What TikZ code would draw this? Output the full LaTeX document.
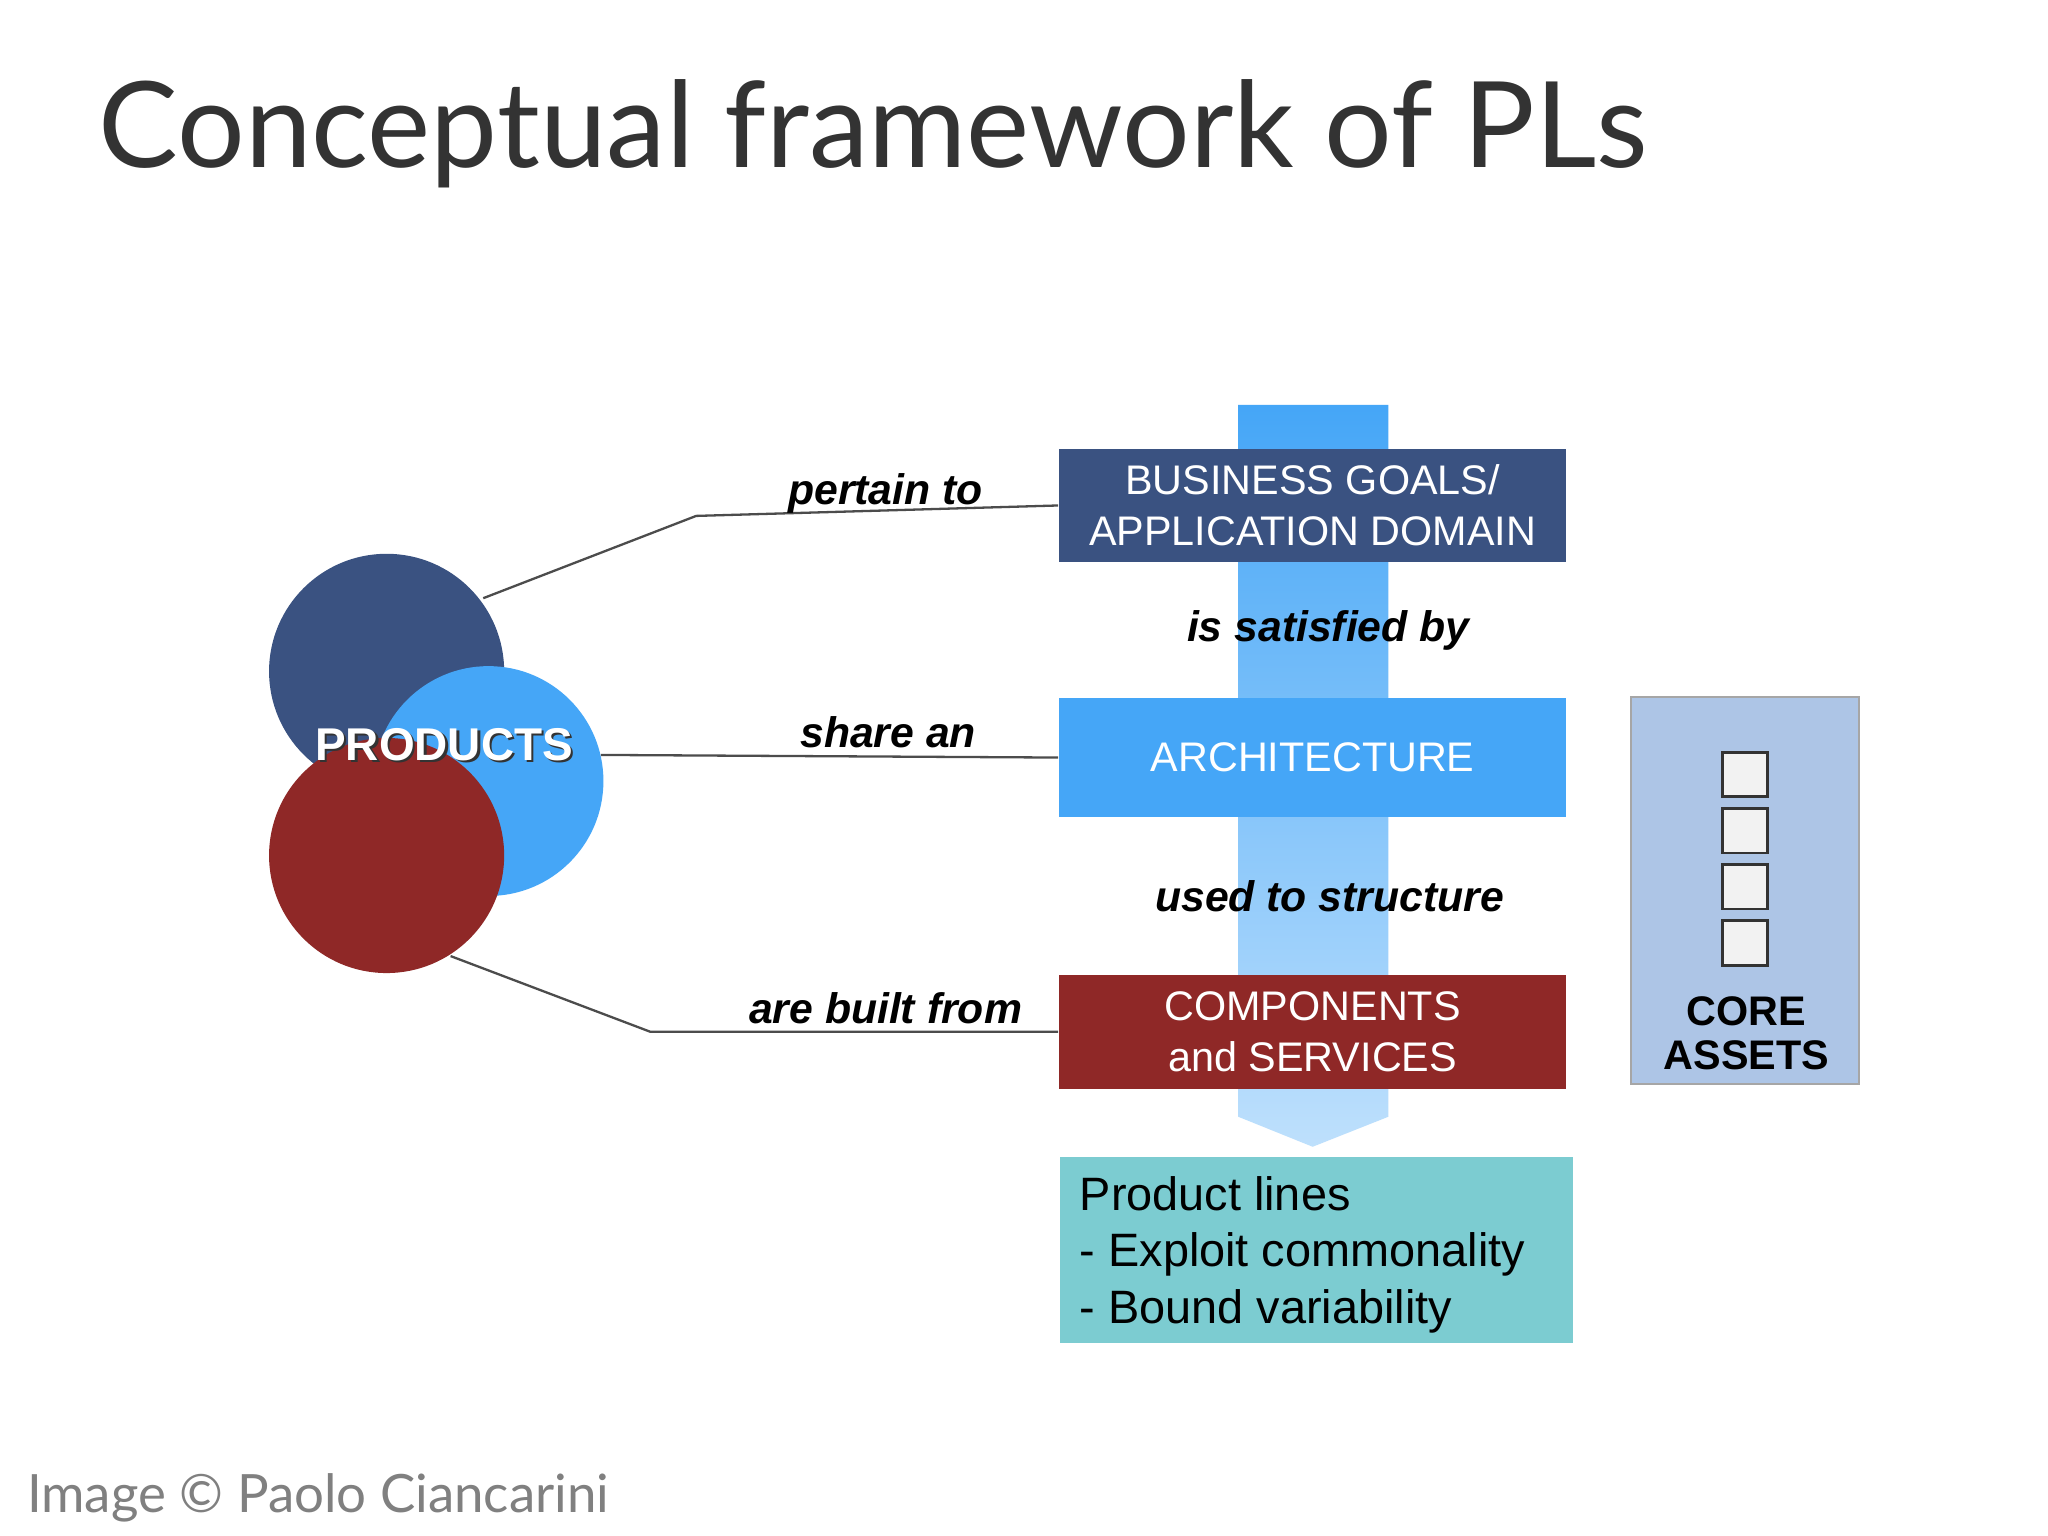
\documentclass[tikz,border=0pt]{standalone}
\usepackage{fontspec}
\setmainfont{Liberation Sans}
\newfontfamily\titlefont{Lato}
\begin{document}
\begin{tikzpicture}[x=0.01cm,y=-0.01cm,
  box/.style={minimum width=388\pgflinewidth,inner sep=0pt,text=white,align=center,font=\fontsize{9}{11}\selectfont},
  lbl/.style={font=\fontsize{9.3}{11}\selectfont\bfseries\itshape,text=black},
  conn/.style={draw=black!70,line width=0.5pt},
  sq/.style={draw=black!80,fill=black!5,line width=0.6pt,minimum size=0.34cm,inner sep=0pt}]
\definecolor{dblue}{HTML}{3A5281}
\definecolor{lblue}{HTML}{45A6F7}
\definecolor{dred}{HTML}{8F2827}
\definecolor{teal}{HTML}{7CCCD1}
\definecolor{core}{HTML}{ADC5E6}
\useasboundingbox (0,0) rectangle (1568,1176);
\fill[white] (0,0) rectangle (1568,1176);
\node[anchor=base west,inner sep=0pt,text=black!80,font=\titlefont\fontsize{26}{30}\selectfont] (title) at (75,128) {Conceptual framework of PLs};
% band
\shade[top color=lblue,bottom color=lblue!35] (948,310) -- (1063,310) -- (1063,855) -- (1005,878) -- (948,855) -- cycle;
% boxes
\node[box,fill=dblue,minimum width=3.88cm,minimum height=0.87cm] (bg) at (1005,387) {BUSINESS GOALS/\\APPLICATION DOMAIN};
\node[box,fill=lblue,minimum width=3.88cm,minimum height=0.91cm] (arch) at (1005,580) {ARCHITECTURE};
\node[box,fill=dred,minimum width=3.88cm,minimum height=0.87cm] (comp) at (1005,790) {COMPONENTS\\and SERVICES};
\node[fill=teal,minimum width=3.92cm,minimum height=1.42cm,inner sep=0pt] (pl) at (1008,957) {};
\node[anchor=north west,align=left,inner sep=0pt,font=\fontsize{10.2}{12.3}\selectfont] (pltext) at (826,900) {Product lines\\- Exploit commonality\\- Bound variability};
\node[lbl] (sat) at (1017,483) {is satisfied by};
\node[lbl] (use) at (1018,686) {used to structure};
% core assets
\node[fill=core,draw=black!35,minimum width=1.74cm,minimum height=2.96cm,inner sep=0pt] (ca) at (1336,682) {};
\foreach \y/\n in {593/a,636/b,679/c,722/d} \node[sq] (s\n) at (1336,\y) {};
\node[align=center,font=\fontsize{9}{9.5}\selectfont\bfseries] (catext) at (1337,791) {CORE\\ASSETS};
% circles
\fill[dblue] (296,514) circle (90);
\fill[lblue] (374,598) circle (88);
\fill[dred] (296,655) circle (90);
\node[text=black!80,font=\fontsize{10}{12}\selectfont\bfseries] at (342,572) {PRODUCTS};
\node[text=white,font=\fontsize{10}{12}\selectfont\bfseries] (prod) at (340,570) {PRODUCTS};
\coordinate (p1) at (370,458);
\coordinate (p2) at (460,578);
\coordinate (p3) at (345,732);
% connectors
\draw[conn] (p1) -- (533,395) -- (bg.west);
\draw[conn] (p2) -- (arch.west);
\draw[conn] (p3) -- (498,790) -- (comp.west);
\node[lbl] (l1) at (678,378) {pertain to};
\node[lbl] (l2) at (680,561) {share an};
\node[lbl] (l3) at (678,772) {are built from};
\node[anchor=base west,inner sep=0pt,text=black!50,font=\titlefont\fontsize{11.5}{13}\selectfont] (foot) at (20,1158) {Image © Paolo Ciancarini};
\end{tikzpicture}
\end{document}
